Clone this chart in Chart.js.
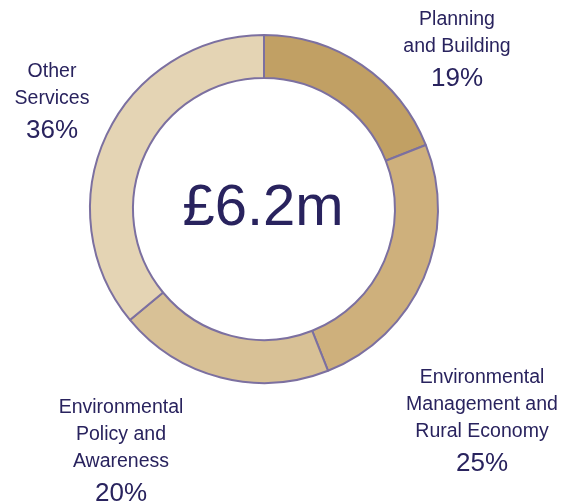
<!DOCTYPE html>
<html>
<head>
<meta charset="utf-8">
<script src="https://cdn.jsdelivr.net/npm/chart.js@4"></script>
<style>
    html, body { margin: 0; padding: 0; background: #fff; }
    #wrap { width: 574px; height: 502px; }
</style>
</head>
<body>
<div id="wrap"><canvas id="graficoGastos"></canvas></div>
<script>
const categorias = [
    ['Planning', 'and Building'],
    ['Environmental', 'Management and', 'Rural Economy'],
    ['Environmental', 'Policy and', 'Awareness'],
    ['Other', 'Services']
];
const percentuais = [19, 25, 20, 36];
const total = '£6.2m';

const cores = ['#c1a064', '#ceb07c', '#d8c196', '#e4d4b4'];
const corTexto = '#29235e';

// onde fica cada rótulo (x do centro, y da primeira linha)
const posRotulos = [
    { x: 457, y: 20 },
    { x: 482, y: 378 },
    { x: 121, y: 408 },
    { x: 52, y: 72 }
];

// Texto central e rótulos das fatias
const rotulosPlugin = {
    id: 'rotulos',
    afterDraw(chart) {
        const ctx = chart.ctx;
        const meta = chart.getDatasetMeta(0);
        const arc = meta.data[0];
        ctx.save();
        ctx.fillStyle = corTexto;
        ctx.textAlign = 'center';
        ctx.textBaseline = 'middle';

        ctx.font = '58px "Liberation Sans", Arial, sans-serif';
        ctx.fillText(total, arc.x - 1, arc.y);

        categorias.forEach((linhas, i) => {
            const p = posRotulos[i];
            ctx.font = '19.5px "Liberation Sans", Arial, sans-serif';
            linhas.forEach((linha, j) => {
                ctx.fillText(linha, p.x, p.y + j * 27);
            });
            ctx.font = '26px "Liberation Sans", Arial, sans-serif';
            ctx.fillText(percentuais[i] + '%', p.x, p.y + linhas.length * 27 + 5);
        });
        ctx.restore();
    }
};

const ctx1 = document.getElementById('graficoGastos').getContext('2d');
const graficoGastos = new Chart(ctx1, {
    type: 'doughnut',
    data: {
        labels: categorias.map(l => l.join(' ')),
        datasets: [{
            data: percentuais,
            backgroundColor: cores,
            borderColor: '#7c70a0',
            borderWidth: 2,
            hoverOffset: 0
        }]
    },
    options: {
        responsive: true,
        maintainAspectRatio: false,
        animation: false,
        radius: 174,
        cutout: 131,
        layout: {
            padding: { left: 89, right: 135, top: 34, bottom: 118 }
        },
        plugins: {
            legend: { display: false },
            tooltip: { enabled: false }
        }
    },
    plugins: [rotulosPlugin]
});
</script>
</body>
</html>
